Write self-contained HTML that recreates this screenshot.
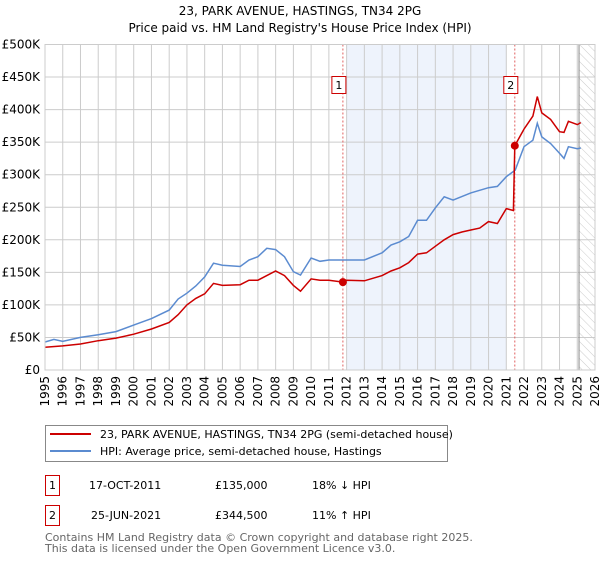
<!DOCTYPE html>
<html><head><meta charset="utf-8"><style>
body{margin:0;background:#fff;width:600px;height:560px;overflow:hidden}
svg text{font-family:"DejaVu Sans","Liberation Sans",sans-serif}
</style></head><body>
<svg id="chart" width="600" height="560" xmlns="http://www.w3.org/2000/svg">
<text x="300" y="15" font-size="12" text-anchor="middle">23, PARK AVENUE, HASTINGS, TN34 2PG</text>
<text x="300" y="32" font-size="12" text-anchor="middle">Price paid vs. HM Land Registry's House Price Index (HPI)</text>
<g id="plot"></g>
<g>
<rect x="45.5" y="425.5" width="402" height="36" fill="#fff" stroke="#888"/>
<line x1="50" y1="434" x2="91" y2="434" stroke="#cc0000" stroke-width="2"/>
<text x="100" y="438" font-size="11">23, PARK AVENUE, HASTINGS, TN34 2PG (semi-detached house)</text>
<line x1="50" y1="451" x2="91" y2="451" stroke="#5b8bd0" stroke-width="2"/>
<text x="100" y="455" font-size="11">HPI: Average price, semi-detached house, Hastings</text>
</g>
<g font-size="11">
<rect x="45.5" y="475.5" width="14" height="20" fill="#fff" stroke="#cc0000"/>
<text x="52.5" y="489" text-anchor="middle">1</text>
<text x="89" y="489">17-OCT-2011</text><text x="215" y="489">£135,000</text><text x="312" y="489">18% ↓ HPI</text>
</g>
<g font-size="11">
<rect x="45.5" y="505.5" width="14" height="20" fill="#fff" stroke="#cc0000"/>
<text x="52.5" y="519" text-anchor="middle">2</text>
<text x="91" y="519">25-JUN-2021</text><text x="215" y="519">£344,500</text><text x="312" y="519">11% ↑ HPI</text>
</g>
<text x="45" y="541" font-size="11" fill="#666">Contains HM Land Registry data © Crown copyright and database right 2025.</text>
<text x="45" y="552" font-size="11" fill="#666">This data is licensed under the Open Government Licence v3.0.</text>
</svg>
<script>
const hpiYears=[1995,1995.5,1996,1997,1998,1999,2000,2001,2002,2002.5,2003,2003.5,2004,2004.5,2005,2006,2006.5,2007,2007.5,2008,2008.5,2009,2009.4,2010,2010.5,2011,2012,2013,2014,2014.5,2015,2015.5,2016,2016.5,2017,2017.5,2018,2019,2020,2020.5,2021,2021.5,2022,2022.5,2022.75,2023,2023.5,2024,2024.25,2024.5,2025,2025.2];
const hpiValues=[43,47,44,50,54,59,69,79,92,109,118,129,143,164,161,159,169,174,187,185,174,151,146,172,167,169,169,169,180,192,197,205,230,230,249,266,261,272,280,282,297,307,343,353,379,358,348,333,325,343,340,341];
const priceYears=[1995,1996,1997,1998,1999,2000,2001,2002,2002.5,2003,2003.5,2004,2004.5,2005,2006,2006.5,2007,2007.5,2008,2008.5,2009,2009.4,2010,2010.5,2011,2011.79,2012,2013,2014,2014.5,2015,2015.5,2016,2016.5,2017,2017.5,2018,2018.5,2019,2019.5,2020,2020.5,2021,2021.4,2021.48,2022,2022.5,2022.75,2023,2023.5,2024,2024.25,2024.5,2025,2025.2];
const priceValues=[35,37,40,45,49,55,63,73,85,100,110,117,133,130,131,138,138,145,152,145,130,121,140,138,138,135,138,137,145,152,157,165,178,180,190,200,208,212,215,218,228,225,248,245,344.5,370,390,420,395,385,366,365,382,377,380];
const saleYears=[2011.79,2021.48];
const saleValues=[135,344.5];
const yTicks=[0,50,100,150,200,250,300,350,400,450,500];
const yLabels=["£0","£50K","£100K","£150K","£200K","£250K","£300K","£350K","£400K","£450K","£500K"];
const xTicks=[1995,1996,1997,1998,1999,2000,2001,2002,2003,2004,2005,2006,2007,2008,2009,2010,2011,2012,2013,2014,2015,2016,2017,2018,2019,2020,2021,2022,2023,2024,2025,2026];
const L=45,R=595,T=44.5,B=370;
const xs=y=>L+(y-1995)/(2026-1995)*(R-L);
const ys=v=>B-v/500*(B-T);
const g=document.getElementById('plot');
const NS='http://www.w3.org/2000/svg';
function mk(tag,attrs,parent){const e=document.createElementNS(NS,tag);for(const k in attrs)e.setAttribute(k,attrs[k]);(parent||g).appendChild(e);return e;}
let e;
e=mk('rect',{x:xs(2012),y:T,width:xs(2021)-xs(2012),height:B-T,fill:'#eef3fc'});


const defs=mk('defs',{});
const pat=mk('pattern',{id:'hatch',width:6,height:6,patternUnits:'userSpaceOnUse',patternTransform:'rotate(-45)'},defs);
mk('line',{x1:0,y1:0,x2:0,y2:6,stroke:'#ccc','stroke-width':1},pat);
e=mk('rect',{x:xs(2025.1),y:T,width:R-xs(2025.1),height:B-T,fill:'url(#hatch)'});


yTicks.forEach((v,i)=>{
 const l=mk('line',{x1:L,x2:R,y1:ys(v),y2:ys(v),stroke:'#ccc'});
 
 
 const t=mk('text',{x:L-5,y:ys(v)+4,'font-size':12,'text-anchor':'end'});
 t.textContent=yLabels[i];
 
 
});
xTicks.forEach(yr=>{
 const l=mk('line',{x1:xs(yr),x2:xs(yr),y1:T,y2:B,stroke:'#ccc'});
 
 
 const t=mk('text',{x:0,y:0,'font-size':12,'text-anchor':'end',transform:`translate(${xs(yr)+4},${B+6}) rotate(-90)`});
 t.textContent=yr;
 
 
});
e=mk('line',{x1:xs(2025.1),x2:xs(2025.1),y1:T,y2:B,stroke:'#888'});


saleYears.forEach((yr,i)=>{
 const l=mk('line',{x1:xs(yr),x2:xs(yr),y1:T,y2:B,stroke:'#e06060','stroke-dasharray':'2,2'});
 
 
});
const path=(xa,va)=>xa.map((y,i)=>(i?'L':'M')+xs(y).toFixed(1)+','+ys(va[i]).toFixed(1)).join('');
e=mk('path',{d:path(hpiYears,hpiValues),fill:'none',stroke:'#5b8bd0','stroke-width':1.5});


e=mk('path',{d:path(priceYears,priceValues),fill:'none',stroke:'#cc0000','stroke-width':1.5});


saleYears.forEach((yr,i)=>{
 const c=mk('circle',{cx:xs(yr),cy:ys(saleValues[i]),r:4,fill:'#cc0000'});
 
 
 const bx=xs(yr)-7-4;
 const r=mk('rect',{x:bx,y:76.5,width:14,height:17,fill:'#fff',stroke:'#cc0000'});
 
 
 const t=mk('text',{x:bx+7,y:89,'font-size':11,'text-anchor':'middle'});
 t.textContent=String(i+1);
 
 
});
e=mk('rect',{x:L,y:T,width:R-L,height:B-T,fill:'none',stroke:'#ccc'});


</script>
</body></html>
